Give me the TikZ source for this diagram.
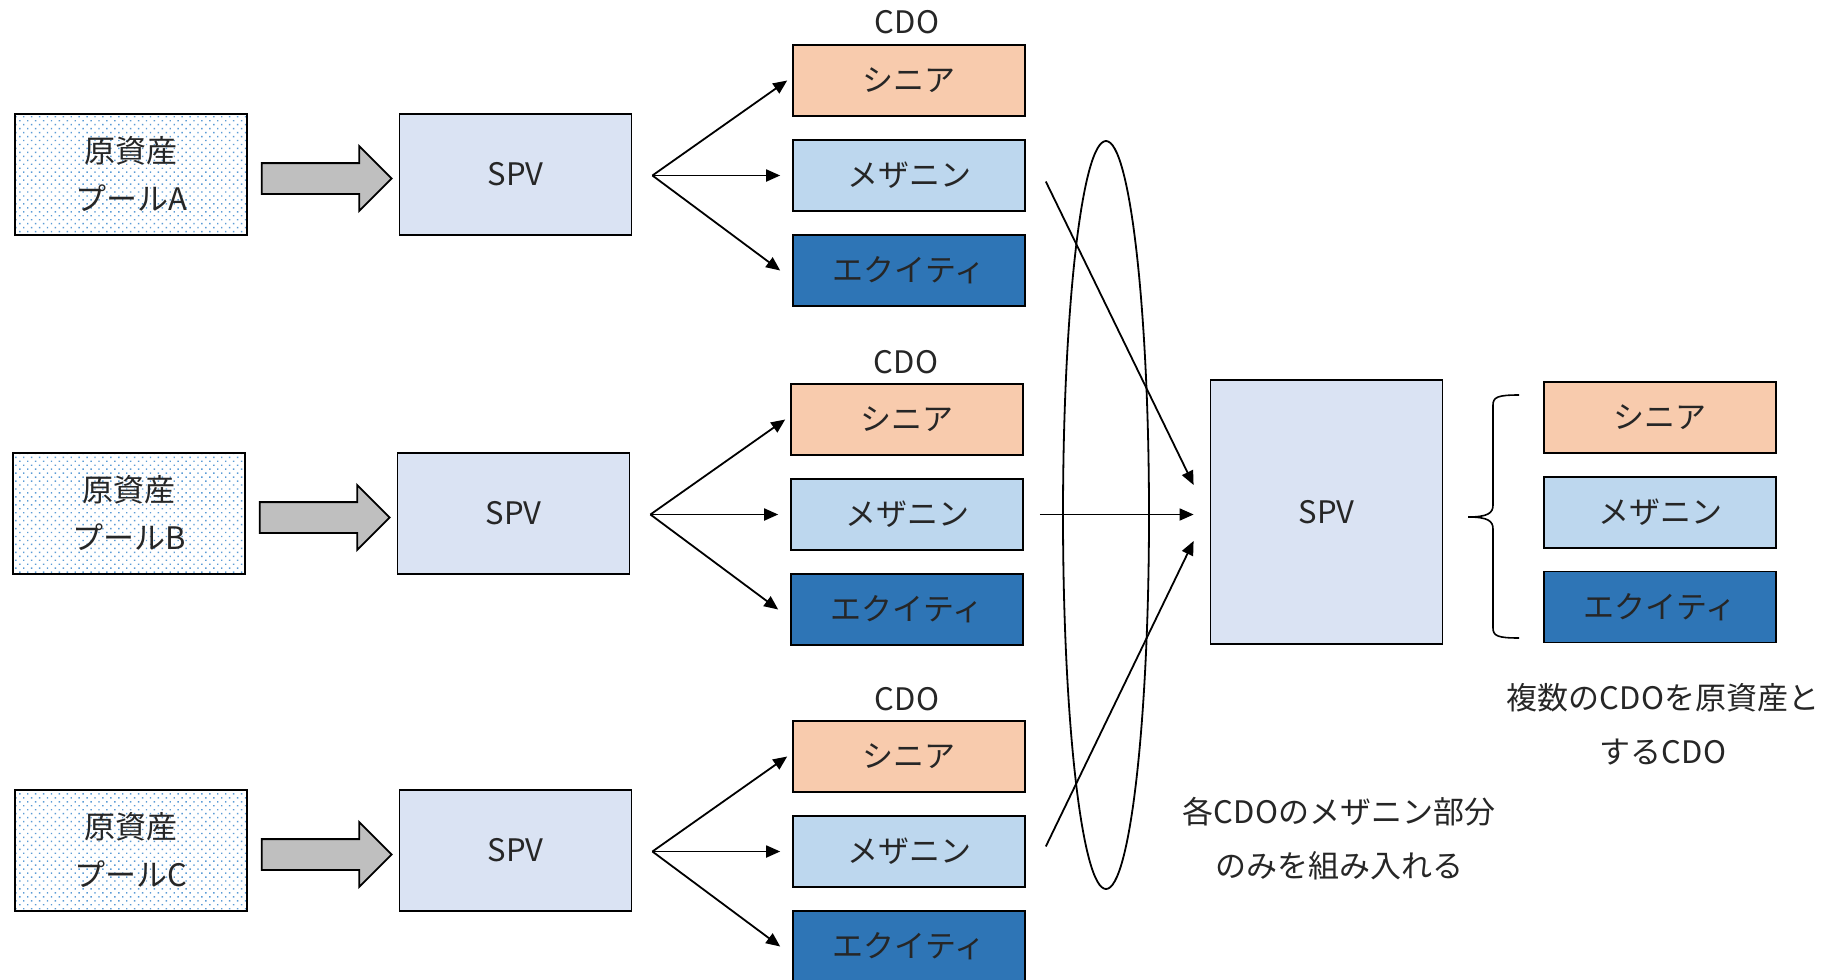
\documentclass[tikz,border=0pt]{standalone}
\usepackage{fontspec}
\setmainfont{Noto Sans CJK JP}
\usetikzlibrary{shapes.geometric, shapes.arrows, arrows.meta, patterns.meta}
\definecolor{seniorfill}{HTML}{F8CBAD}
\definecolor{mezzfill}{HTML}{BDD7EE}
\definecolor{equityfill}{HTML}{2E75B6}
\definecolor{spvfill}{HTML}{DAE3F3}
\definecolor{dotblue}{HTML}{5B9BD5}
\definecolor{textgray}{HTML}{262626}
\tikzset{
  box/.style={
    rectangle,
    minimum width=116pt,
    minimum height=60.5pt,
    align=center,
    inner sep=0pt,
    draw=black,
    line width=0.9pt,
    text=textgray,
    font=\fontsize{15.5pt}{24pt}\selectfont
  },
  pool/.style={
    box,
    pattern={Dots[distance=2.8pt, angle=45, radius=0.5pt]},
    pattern color=dotblue
  },
  spv/.style={box, fill=spvfill},
  tranche/.style={box, minimum height=35.5pt, line width=0.8pt},
  senior/.style={tranche, fill=seniorfill},
  mezz/.style={tranche, fill=mezzfill},
  equity/.style={tranche, fill=equityfill},
  blockarrow/.style={
    single arrow,
    single arrow head extend=8.5pt,
    single arrow tip angle=90,
    minimum height=65pt,
    inner xsep=0pt,
    inner ysep=7.25pt,
    draw=black,
    line width=0.9pt,
    fill=black!25
  },
  note/.style={
    align=center,
    text=textgray,
    font=\fontsize{15.5pt}{27pt}\selectfont
  },
  arrow/.style={line width=0.9pt, -{Triangle[length=7pt, width=6pt]}}
}

\begin{document}
\begin{tikzpicture}[x=0.5pt, y=-0.5pt]
  \useasboundingbox (0,0) rectangle (1843,980);

  % pool A
  \node (poolA) [pool] at (131,174.5) {原資産\\プールA};
  \node (arrA) [blockarrow] at (319,178.5) {};
  \node (spvA) [spv] at (515.5,174.5) {SPV};
  \node (cdoA) [note] at (907,22) {CDO};
  \node (senA) [senior] at (909,80.5) {シニア};
  \node (mezA) [mezz] at (909,175.5) {メザニン};
  \node (eqA) [equity] at (909,270.5) {エクイティ};
  \coordinate (fanA) at ([xshift=10pt]spvA.east |- mezA.west);
  \draw [arrow] (fanA) -- ([xshift=-2.5pt]senA.west);
  \draw [arrow] (fanA) -- ([xshift=-6pt]mezA.west);
  \draw [arrow] (fanA) -- ([xshift=-6pt]eqA.west);

  % pool B
  \node (poolB) [pool] at (129,513.5) {原資産\\プールB};
  \node (arrB) [blockarrow] at (317,517.5) {};
  \node (spvB) [spv] at (513.5,513.5) {SPV};
  \node (cdoB) [note] at (906,362) {CDO};
  \node (senB) [senior] at (907,419.5) {シニア};
  \node (mezB) [mezz] at (907,514.5) {メザニン};
  \node (eqB) [equity] at (907,609.5) {エクイティ};
  \coordinate (fanB) at ([xshift=10pt]spvB.east |- mezB.west);
  \draw [arrow] (fanB) -- ([xshift=-2.5pt]senB.west);
  \draw [arrow] (fanB) -- ([xshift=-6pt]mezB.west);
  \draw [arrow] (fanB) -- ([xshift=-6pt]eqB.west);

  % pool C
  \node (poolC) [pool] at (131,850.5) {原資産\\プールC};
  \node (arrC) [blockarrow] at (319,854.5) {};
  \node (spvC) [spv] at (515.5,850.5) {SPV};
  \node (cdoC) [note] at (907,699) {CDO};
  \node (senC) [senior] at (909,756.5) {シニア};
  \node (mezC) [mezz] at (909,851.5) {メザニン};
  \node (eqC) [equity] at (909,946.5) {エクイティ};
  \coordinate (fanC) at ([xshift=10pt]spvC.east |- mezC.west);
  \draw [arrow] (fanC) -- ([xshift=-2.5pt]senC.west);
  \draw [arrow] (fanC) -- ([xshift=-6pt]mezC.west);
  \draw [arrow] (fanC) -- ([xshift=-6pt]eqC.west);

  % mezzanine pick-up
  \node (sel) [ellipse, draw=black, line width=0.9pt, minimum width=43pt, minimum height=374pt] at (1106,515) {};
  \node (spvD) [spv, minimum height=132pt] at (1326.5,512) {SPV};
  \draw [arrow] ([xshift=10pt,yshift=-3pt]mezA.east) -- ([xshift=-8pt,yshift=13.5pt]spvD.west);
  \draw [arrow] ([xshift=8pt]mezB.east) -- ([xshift=-8pt]spvD.west |- mezB.east);
  \draw [arrow] ([xshift=10pt,yshift=2.5pt]mezC.east) -- ([xshift=-8pt,yshift=-14.5pt]spvD.west);
  \node (selnote) [note] at (1339,838.5) {各CDOのメザニン部分\\のみを組み入れる};

  % resulting CDO
  \draw [line width=0.8pt] (1519,395) .. controls (1498,395) and (1493,397) .. (1493,405)
    -- (1493,505) .. controls (1493,513) and (1488,517) .. (1468,517)
    .. controls (1488,517) and (1493,521) .. (1493,529)
    -- (1493,628) .. controls (1493,636) and (1498,638) .. (1519,638);
  \node (senD) [senior] at (1660,417.5) {シニア};
  \node (mezD) [mezz] at (1660,512.5) {メザニン};
  \node (eqD) [equity] at (1660,607) {エクイティ};
  \node (cdonote) [note] at (1663,724) {複数のCDOを原資産と\\するCDO};
\end{tikzpicture}
\end{document}
